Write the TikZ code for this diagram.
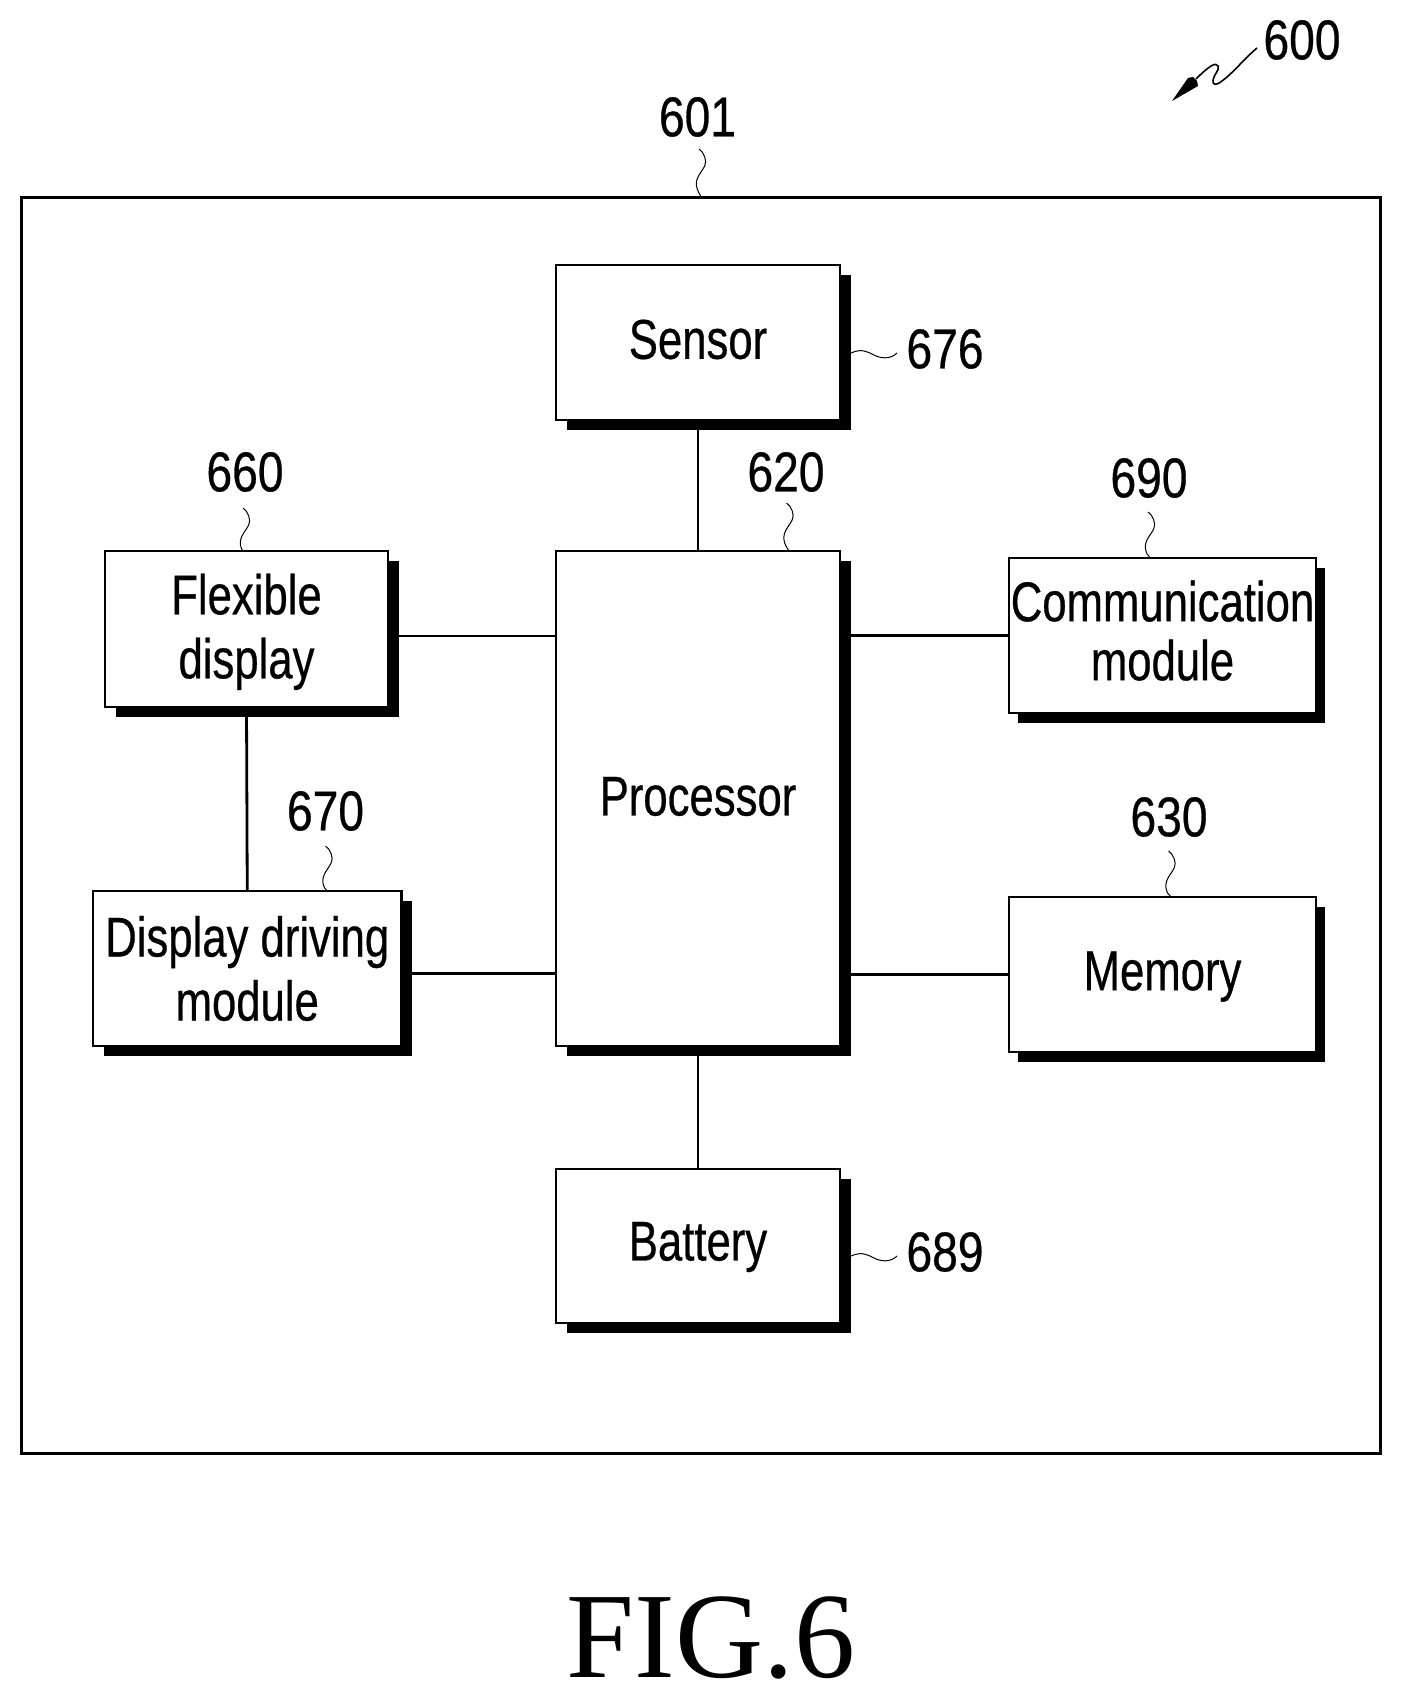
\documentclass[tikz,border=0pt]{standalone}
\usepackage{fontspec}
\setmainfont{Liberation Sans}[RawFeature={embolden=0.6}]
\newfontfamily\figfont{Liberation Serif}
\usetikzlibrary{shadows,arrows.meta}
\newcommand{\nt}[2][0pt]{\raisebox{#1}[\height][\depth]{\scalebox{0.78}[1]{#2}}}
\newcommand{\nd}[1]{\scalebox{0.825}[1]{#1}}
\tikzset{
  frameline/.style={draw=black,line width=1.5pt},
  conn/.style={draw=black,line width=1.4pt},
  leader/.style={draw=black,line width=0.5pt},
  boxnode/.style={draw=black,fill=white,line width=1.4pt,inner sep=0pt,outer sep=0pt,
    align=center,font=\fontsize{28}{32}\selectfont,
    drop shadow={shadow xshift=#1,shadow yshift=-5pt,fill=black,opacity=1}},
  boxnode/.default=5.25pt,
  refnum/.style={inner sep=0pt,outer sep=0pt,font=\fontsize{28}{32}\selectfont},
}
% vertical wavy leader: #1 free start coordinate, #2 target node
\newcommand{\vlead}[2]{\draw[leader,shift={(#1)}] (0,0) .. controls (5,3) and (8,12) .. (6,16)
   .. controls (4,22) and (-4,28) .. (-2.5,37) .. controls (-2,41) and (0,44) .. ([xshift=1.25pt]#1 |- #2.north);}
% horizontal wavy leader
\newcommand{\hlead}[2]{\draw[leader,shift={(#1)}] (0,0) .. controls (-7,7) and (-17,5) .. (-22,2.5)
   .. controls (-29,-1) and (-35,-5) .. ([xshift=5.5pt]#2.east |- #1);}
\begin{document}
\begin{tikzpicture}[x=0.5pt,y=-0.5pt]
\useasboundingbox (0,0) rectangle (1402,1700);
% outer frame
\node[frameline,inner sep=0pt,outer sep=0pt,minimum width=679.75pt,minimum height=628pt] (frame) at (701,825.5) {};
% boxes
\node[boxnode,minimum width=142pt,minimum height=77.5pt] (sensor) at (698,342.5) {\nt[1.5pt]{Sensor}};
\node[boxnode,minimum width=142pt,minimum height=247.5pt] (proc) at (698,798.5) {\nt[1pt]{Processor}};
\node[boxnode,minimum width=142pt,minimum height=77pt] (batt) at (698,1246) {\nt[-0.5pt]{Battery}};
\node[boxnode,minimum width=141.5pt,minimum height=78pt] (flex) at (246.5,629) {\nt[-1.4pt]{Flexible}\\\nt[-1.4pt]{display}};
\node[boxnode,minimum width=154.25pt,minimum height=77.5pt] (drv) at (247.25,968.5) {\nt{Display driving}\\\nt{module}};
\node[boxnode=4.6pt,minimum width=153.5pt,minimum height=77.5pt,font=\fontsize{28}{29.5}\selectfont] (comm) at (1162.5,635.5) {\nt[2.4pt]{Communication}\\\nt[2.4pt]{module}};
\node[boxnode=4.6pt,minimum width=153.5pt,minimum height=77.5pt] (mem) at (1162.5,974.5) {\nt[-1.1pt]{Memory}};
% connectors
\draw[conn] (sensor.south) -- (proc.north);
\draw[conn] (proc.south) -- (batt.north);
\draw[conn] (flex.south) -- (drv.north);
\draw[conn] ([yshift=-3.5pt]flex.east) -- ([yshift=-3.5pt]flex.east -| proc.west);
\draw[conn] ([yshift=-2.5pt]drv.east) -- ([yshift=-2.5pt]drv.east -| proc.west);
\draw[conn] (comm.west) -- (comm.west -| proc.east);
\draw[conn] (mem.west) -- (mem.west -| proc.east);
% reference numbers
\node[refnum] (n600) at (1302,40) {\nd{600}};
\node[refnum] (n601) at (697.5,117) {\nd{601}};
\node[refnum] (n676) at (945,349) {\nd{676}};
\node[refnum] (n620) at (786,472) {\nd{620}};
\node[refnum] (n660) at (245,472) {\nd{660}};
\node[refnum] (n690) at (1149,478) {\nd{690}};
\node[refnum] (n670) at (325.5,811) {\nd{670}};
\node[refnum] (n630) at (1169,817) {\nd{630}};
\node[refnum] (n689) at (945,1252) {\nd{689}};
% leaders
\coordinate (a601) at (699,149);
\coordinate (a620) at (786.5,503);
\coordinate (a660) at (243,508);
\coordinate (a690) at (1148,512);
\coordinate (a670) at (325.5,846);
\coordinate (a630) at (1168.5,851);
\coordinate (a676) at (897,353);
\coordinate (a689) at (897,1256);
\vlead{a601}{frame}
\vlead{a620}{proc}
\vlead{a660}{flex}
\vlead{a690}{comm}
\vlead{a670}{drv}
\vlead{a630}{mem}
\hlead{a676}{sensor}
\hlead{a689}{batt}
% 600 arrow
\coordinate (a600) at (1257,48);
\coordinate (t600) at (1172,101);
\draw[leader,line width=0.8pt] (a600) .. controls (1245,58) and (1232,74) .. (1222,81)
  .. controls (1216,86) and (1212,85) .. (1213,80) .. controls (1214,74) and (1220,70) .. (1218,66)
  .. controls (1216,62) and (1210,65) .. (1196,79);
\fill[black] (1188,78) -- (1193,77) -- (1197,81) -- (1198,86) -- (t600) -- cycle;
% caption
\node[inner sep=0pt,outer sep=0pt,font=\figfont\fontsize{61}{64}\selectfont] (cap) at (711,1638) {FIG.6};
\end{tikzpicture}
\end{document}
